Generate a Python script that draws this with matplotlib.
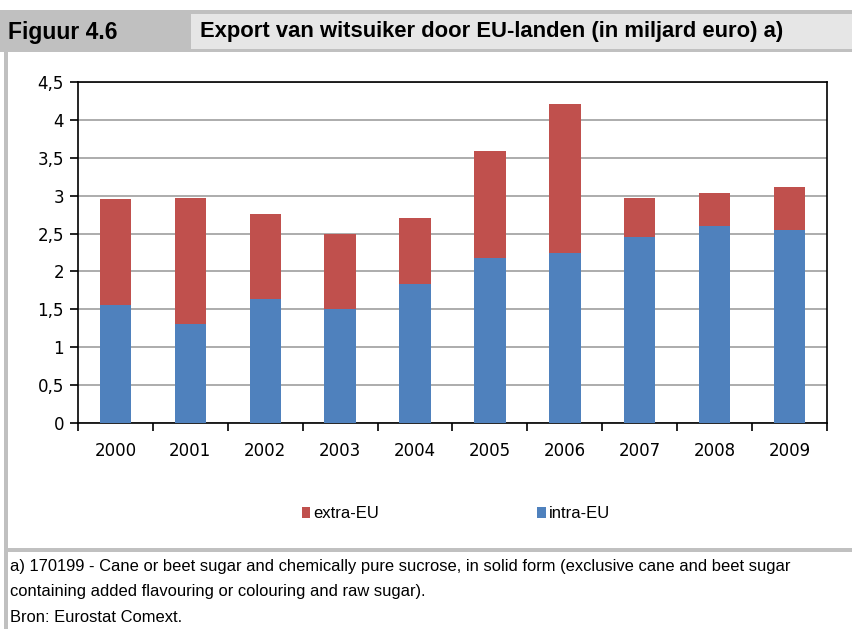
import matplotlib
matplotlib.use("Agg")
import matplotlib.pyplot as plt
from matplotlib.patches import Rectangle
import numpy as np

# data (miljard euro)
years = ["2000", "2001", "2002", "2003", "2004", "2005", "2006", "2007", "2008", "2009"]
intra_eu = [1.56, 1.30, 1.63, 1.50, 1.84, 2.18, 2.24, 2.46, 2.60, 2.55]
totaal = [2.96, 2.97, 2.76, 2.49, 2.70, 3.59, 4.21, 2.97, 3.03, 3.12]
extra_eu = [t - i for t, i in zip(totaal, intra_eu)]
yticks = [0, 0.5, 1, 1.5, 2, 2.5, 3, 3.5, 4, 4.5]
ytick_labels = ["0", "0,5", "1", "1,5", "2", "2,5", "3", "3,5", "4", "4,5"]

W, H = 853, 629
RED = "#C0504D"
BLUE = "#4F81BD"
narrow = ["Liberation Sans", "DejaVu Sans"]


def fx(px):
    return px / W


def fy(py):
    return 1 - py / H


def rect(fig, x0, y0, x1, y1, color):
    # rectangle in pixel coords (top-left origin)
    fig.patches.append(Rectangle((fx(x0), fy(y1)), fx(x1) - fx(x0), fy(y0) - fy(y1),
                                 transform=fig.transFigure, facecolor=color,
                                 edgecolor="none", zorder=0))


fig = plt.figure(figsize=(W / 100, H / 100), dpi=100)

# header band
rect(fig, 0, 10, W, 52, "#C0C0C0")
rect(fig, 191, 14, W, 49, "#E6E6E6")
# left frame line and separator above the footnote
rect(fig, 4, 52, 8, H, "#C0C0C0")
rect(fig, 4, 548, W, 552, "#C0C0C0")

fig.text(fx(8), fy(32), "Figuur 4.6", fontsize=16.5, fontweight="bold",
         family=narrow, va="center", ha="left")
fig.text(fx(200), fy(32), "Export van witsuiker door EU-landen (in miljard euro) a)",
         fontsize=15.8, fontweight="bold", family=narrow, va="center", ha="left")

ax = fig.add_axes([fx(78), fy(423), fx(827) - fx(78), fy(82) - fy(423)])
x = np.arange(len(years))
ax.bar(x, intra_eu, width=0.42, color=BLUE, label="intra-EU", zorder=3)
ax.bar(x, extra_eu, width=0.42, bottom=intra_eu, color=RED, label="extra-EU", zorder=3)

ax.set_xlim(-0.5, len(years) - 0.5)
ax.set_ylim(0, 4.5)
ax.set_yticks(yticks)
ax.set_yticklabels(ytick_labels, fontsize=12)
ax.yaxis.grid(True, color="#A6A6A6", linewidth=1.3, zorder=0)
ax.set_axisbelow(True)

# category labels centred, tick marks between categories
ax.set_xticks(x)
ax.set_xticklabels(years, fontsize=12)
ax.tick_params(axis="x", which="major", length=0, pad=14)
ax.set_xticks(np.arange(-0.5, len(years)), minor=True)
ax.tick_params(axis="x", which="minor", length=6, width=1.2, direction="out")
ax.tick_params(axis="y", length=6, width=1.2, direction="out", pad=4)
for s in ax.spines.values():
    s.set_color("black")
    s.set_linewidth(1.2)

handles, labels = ax.get_legend_handles_labels()
fig.legend(handles[::-1], labels[::-1], loc="center", bbox_to_anchor=(fx(456), fy(514)),
           ncol=2, frameon=False, handlelength=0.5, handleheight=0.6,
           handletextpad=0.2, columnspacing=9.5, prop={"family": narrow, "size": 12})

notes = ["a) 170199 - Cane or beet sugar and chemically pure sucrose, in solid form (exclusive cane and beet sugar",
         "containing added flavouring or colouring and raw sugar).",
         "Bron: Eurostat Comext."]
for k, line in enumerate(notes):
    fig.text(fx(10), fy(566 + 25.5 * k), line, fontsize=11.9, family=narrow,
             va="center", ha="left")

fig.savefig("out.png", dpi=100)
